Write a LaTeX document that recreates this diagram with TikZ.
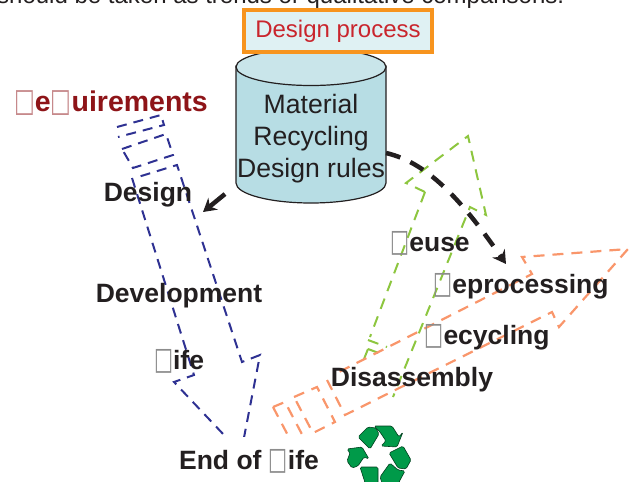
\documentclass[tikz,border=0pt]{standalone}
\usepackage{fontspec}
\usepackage{graphicx}
\setmainfont{Liberation Sans}
\newfontfamily\symf{DejaVu Sans}
\definecolor{ink}{HTML}{231F20}
\definecolor{reqred}{HTML}{8E1418}
\definecolor{boxred}{HTML}{C9252D}
\definecolor{boxor}{HTML}{F7941E}
\definecolor{boxfill}{HTML}{DFF1F3}
\definecolor{cylbody}{HTML}{B7DDE4}
\definecolor{cyltop}{HTML}{C9E5EA}
\definecolor{blueln}{HTML}{2E3192}
\definecolor{greenln}{HTML}{8DC63F}
\definecolor{orangeln}{HTML}{F9966B}
\definecolor{recgreen}{HTML}{009A49}
\newcommand{\mbx}{\raisebox{-0.5pt}{\scalebox{0.84}[1.3]{\fontsize{24pt}{24pt}\symf\color{black!45}\char"25A1}}}
\newcommand{\rbx}{\raisebox{-0.5pt}{\scalebox{0.88}[1.3]{\fontsize{25pt}{25pt}\symf\color{reqred!50}\char"25A1}}}
\usetikzlibrary{arrows.meta}
\tikzset{
  x=1pt,y=-1pt,
  lbl/.style={font=\bfseries\fontsize{26.5pt}{26.5pt}\selectfont,text=ink,inner sep=0pt,anchor=base},
  bluedash/.style={draw=blueln,line width=2pt,dash pattern=on 10pt off 7pt},
  greendash/.style={draw=greenln,line width=2pt,dash pattern=on 11pt off 8pt},
  orangedash/.style={draw=orangeln,line width=2.2pt,dash pattern=on 11pt off 8pt},
  flow/.style={draw=ink,line width=4.5pt},
  recarrow/.style={fill=recgreen,draw=black!60!recgreen,line width=0.6pt,rounded corners=1.5pt},
}
\begin{document}
\begin{tikzpicture}
\useasboundingbox (0,0) rectangle (630,482);
\begin{scope}
\clip (0,0) rectangle (630,482);
\node[font=\fontsize{24pt}{24pt}\selectfont,text=ink,anchor=base west,inner sep=0pt] (toptext) at (-3,3) {should be taken as trends or qualitative comparisons.};

% cylinder
\path[fill=cylbody,draw=ink,line width=1.2pt] (236,66) -- (236,183) arc[start angle=180,end angle=0,x radius=75,y radius=20] -- (386,66) -- cycle;
\path[fill=cyltop,draw=ink,line width=1.2pt] (311,67) ellipse[x radius=75,y radius=18.5];
\node[font=\fontsize{26.6pt}{32pt}\selectfont,text=ink,align=center,inner sep=0pt,anchor=center] (rules) at (311,139) {Material\\Recycling\\Design rules};

\node[draw=boxor,line width=3.5pt,fill=boxfill,minimum width=188pt,minimum height=42pt,inner sep=0pt,text=boxred,font=\fontsize{24pt}{24pt}\selectfont] (proc) at (338,31) {Design process};

% blue arrow
\draw[bluedash] (117,127) -- (161,115) -- (164,125) -- (118,137);
\draw[bluedash] (122,149) -- (166,134) -- (173,155) -- (133,168) -- cycle;
\draw[bluedash] (132,178) -- (194,375) -- (174,382) -- (241,453) -- (260,355) -- (242,362) -- (177,165) -- (138,177);

% green arrow
\draw[greendash] (425,192) -- (370,337) (368,340) -- (387,347) (368,349) -- (384,355) (368,349) -- (362,364);
\draw[greendash] (425,192) -- (406,183) -- (468,136) -- (486,215) -- (470,207) -- (393,397);

% orange arrow
\draw[orangedash] (327,380) -- (345,415) -- (552,312) -- (559,327) -- (628,249) -- (522,257) -- (532,274) -- (337,373);
\draw[orangedash] (294,397) -- (317,387) -- (335,422) -- (313,433) -- cycle;
\draw[orangedash] (273,407) -- (285,402) -- (305,440) (273,407) -- (292,443);

% bold connectors
\coordinate (rulesout) at (386,153);
\coordinate (flowend) at (506,264);
\draw[flow,dash pattern=on 15pt off 11pt,-{Stealth[length=13pt,width=15pt]}] (rulesout) .. controls (430,163) and (465,205) .. (flowend);
\coordinate (rulesdown) at (225,194);
\coordinate (downend) at (203,212);
\draw[flow,-{Stealth[length=13pt,width=15pt]}] (rulesdown) -- (downend);

% recycling sign
\path[recarrow] (358,437) -- (368,427) -- (376,428) -- (379,434) -- (370,449) -- cycle;
\path[recarrow] (374,426) -- (392,426) -- (399,437) -- (403,432) -- (397,447) -- (381,446) -- (386,441) -- (380,432) -- cycle;
\path[recarrow] (389,453) -- (403,446) -- (411,460) -- (406,469) -- (398,468) -- cycle;
\path[recarrow] (390,463) -- (380,477) -- (385,492) -- (399,492) -- (399,482) -- (405,471) -- (398,470) -- cycle;
\path[recarrow] (360,467) -- (378,467) -- (378,492) -- (368,492) -- cycle;
\path[recarrow] (362,447) -- (347,449) -- (350,453) -- (347,461) -- (352,468) -- (358,466) -- (364,457) -- (369,459) -- cycle;

% labels
\node[font=\bfseries\fontsize{28.5pt}{28.5pt}\selectfont,text=reqred,inner sep=0pt,anchor=base] (req) at (111,111) {\rbx e\rbx uirements};
\node[lbl] (design) at (148,201) {Design};
\node[lbl] (dev) at (179,302) {Development};
\node[lbl] (life) at (179,369) {\mbx ife};
\node[lbl] (reuse) at (430,251) {\mbx euse};
\node[lbl] (repro) at (521,293) {\mbx eprocessing};
\node[lbl] (recy) at (487,344) {\mbx ecycling};
\node[lbl] (dis) at (412,386) {Disassembly};
\node[lbl,fill=white,text depth=3pt,text height=32pt,inner xsep=4pt] (eol) at (249,469) {End of \mbx ife};
\end{scope}
\end{tikzpicture}
\end{document}
